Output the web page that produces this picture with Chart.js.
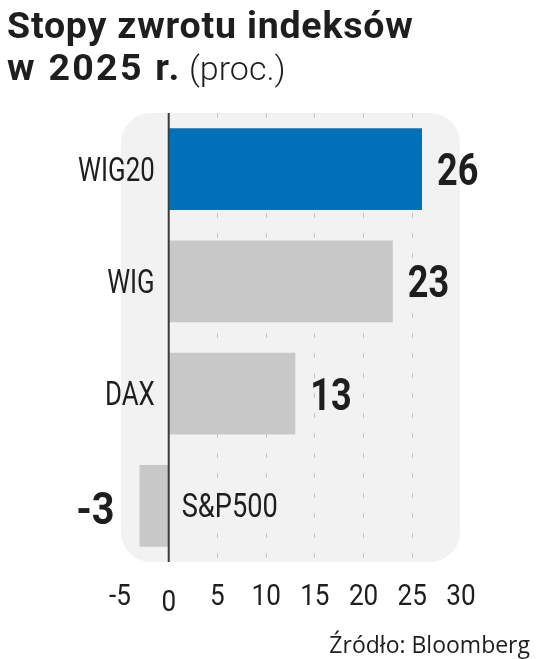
<!DOCTYPE html>
<html>
<head>
<meta charset="utf-8">
<script src="https://cdn.jsdelivr.net/npm/chart.js@4.4.1/dist/chart.umd.min.js"></script>
<style>
  html, body { margin: 0; padding: 0; background: #fff; }
  body { width: 536px; height: 659px; overflow: hidden; }
  canvas { display: block; }
</style>
</head>
<body>
<canvas id="chart" width="536" height="659"></canvas>
<script>
const indices = ["WIG20", "WIG", "DAX", "S&P500"];
const returns = [26, 23, 13, -3];
const barColors = ["#0071b9", "#c8c8c8", "#c8c8c8", "#c8c8c8"];
const xTicks = [-5, 0, 5, 10, 15, 20, 25, 30];

const titleLine1 = "Stopy zwrotu indeksów";
const titleLine2 = "w 2025 r.";
const titleUnit = "(proc.)";
const sourceText = "Źródło: Bloomberg";

// text squeezed horizontally, the original face is a condensed DIN
function squeezed(ctx, text, x, y, align, font, sx) {
  ctx.save();
  ctx.font = font;
  ctx.textAlign = align;
  ctx.textBaseline = "alphabetic";
  ctx.translate(x, y);
  ctx.scale(sx, 1);
  ctx.fillText(text, 0, 0);
  ctx.restore();
}

// rounded grey panel behind the plot, plus titles
const panelPlugin = {
  id: "panel",
  beforeDraw(chart) {
    const { ctx, chartArea: a } = chart;
    ctx.save();
    ctx.fillStyle = "#f2f2f2";
    ctx.beginPath();
    ctx.roundRect(a.left + 1, a.top, a.right - a.left - 2, a.bottom - a.top, 30);
    ctx.fill();

    ctx.fillStyle = "#1e1e1e";
    ctx.textAlign = "left";
    ctx.textBaseline = "alphabetic";
    ctx.font = "700 37.5px Roboto, sans-serif";
    ctx.letterSpacing = "0.8px";
    ctx.fillText(titleLine1, 7, 38);
    ctx.letterSpacing = "2.3px";
    ctx.fillText(titleLine2, 7, 80);
    ctx.letterSpacing = "0px";
    ctx.font = "300 34px Roboto, sans-serif";
    ctx.fillText(titleUnit, 189, 80);

    ctx.font = '23px "Open Sans", sans-serif';
    ctx.textAlign = "right";
    ctx.fillText(sourceText, 530, 653);
    ctx.restore();
  }
};

// zero line, tick labels, category and value labels
const labelPlugin = {
  id: "labels",
  afterDatasetsDraw(chart) {
    const { ctx, chartArea: a } = chart;
    const xs = chart.scales.x;
    const x0 = xs.getPixelForValue(0);
    ctx.save();
    ctx.strokeStyle = "#3a3a3a";
    ctx.lineWidth = 2;
    ctx.beginPath();
    ctx.moveTo(x0, a.top);
    ctx.lineTo(x0, a.bottom);
    ctx.stroke();

    ctx.fillStyle = "#1e1e1e";
    xs.ticks.forEach(t => {
      const px = xs.getPixelForValue(t.value);
      const dy = t.value === 0 ? 6 : 0;
      squeezed(ctx, String(t.value), px, 605 + dy, "center", "400 30px Roboto, sans-serif", 0.87);
    });

    const meta = chart.getDatasetMeta(0);
    meta.data.forEach((bar, i) => {
      const v = returns[i];
      const catFont = "400 34px Roboto, sans-serif";
      const valFont = "700 44px Roboto, sans-serif";
      if (v >= 0) {
        squeezed(ctx, indices[i], x0 - 14, bar.y + 11.5, "right", catFont, 0.76);
        squeezed(ctx, String(v), bar.x + 15, bar.y + 16, "left", valFont, 0.82);
      } else {
        squeezed(ctx, indices[i], x0 + 13, bar.y + 11.5, "left", catFont, 0.8);
        squeezed(ctx, String(v), bar.x - 25, bar.y + 18, "right", valFont, 0.9);
      }
    });
    ctx.restore();
  }
};

new Chart(document.getElementById("chart"), {
  type: "bar",
  data: {
    labels: indices,
    datasets: [{
      data: returns,
      backgroundColor: barColors,
      borderWidth: 0,
      barPercentage: 0.73,
      categoryPercentage: 1
    }]
  },
  options: {
    indexAxis: "y",
    responsive: false,
    animation: false,
    events: [],
    layout: { padding: { left: 120, right: 75, top: 113, bottom: 47 } },
    plugins: { legend: { display: false }, tooltip: { enabled: false } },
    scales: {
      y: { display: false },
      x: {
        min: -5,
        max: 30,
        afterBuildTicks(scale) { scale.ticks = xTicks.map(v => ({ value: v })); },
        afterFit(scale) { scale.height = 50; },
        border: { display: false, dash: [5, 15] },
        grid: {
          drawTicks: false,
          color: (c) => (c.tick && c.tick.value > -5 && c.tick.value < 30 && c.tick.value !== 0) ? "#c6c6c6" : "rgba(0,0,0,0)"
        },
        ticks: { display: false }
      }
    }
  },
  plugins: [panelPlugin, labelPlugin]
});
</script>
</body>
</html>
